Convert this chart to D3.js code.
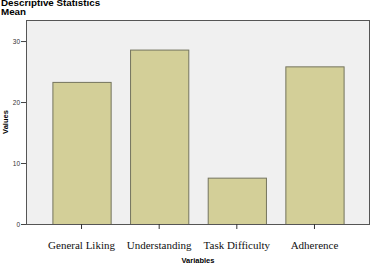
<!DOCTYPE html>
<html><head><meta charset="utf-8">
<script src="https://cdn.jsdelivr.net/npm/d3@7"></script>
<style>body{margin:0;background:#fff}svg{display:block}</style>
</head><body>
<svg id="c" width="373" height="264"></svg>
<script>
const categories = ["General Liking","Understanding","Task Difficulty","Adherence"];
const means = [23.3, 28.6, 7.6, 25.85];
const yTicks = [0,10,20,30];

const svg = d3.select("#c");
const L=26, R=370, T=20, B=224;
const x = d3.scaleBand().domain(categories).range([L,R]).paddingInner(0.25).paddingOuter(0.34);
const y = d3.scaleLinear().domain([0,33.45]).range([B,T]);

svg.append("rect").attr("x",L).attr("y",T).attr("width",R-L).attr("height",B-T)
  .attr("fill","#f0f0f0");

svg.selectAll("rect.bar").data(means).join("rect").attr("class","bar")
  .attr("x",(d,i)=>x(categories[i])+0.5).attr("y",d=>y(d)+0.5)
  .attr("width",x.bandwidth()).attr("height",d=>B-y(d))
  .attr("fill","#d3cf98").attr("stroke","#74745e").attr("stroke-width",1);

svg.append("rect").attr("x",L+0.5).attr("y",T+0.5).attr("width",R-L-1).attr("height",B-T)
  .attr("fill","none").attr("stroke","#555").attr("stroke-width",1);

const ya = svg.append("g").attr("transform",`translate(${L},0)`)
  .call(d3.axisLeft(y).tickValues(yTicks).tickSize(5).tickPadding(1));
ya.select(".domain").remove();
ya.selectAll("line").attr("stroke","#444");
ya.selectAll("text").attr("font-family","Arial, 'Liberation Sans', sans-serif").attr("font-size","6.5px").attr("fill","#333");

const xa = svg.append("g").attr("transform",`translate(0,${B})`)
  .call(d3.axisBottom(x).tickSize(5).tickPadding(12));
xa.select(".domain").remove();
xa.selectAll("line").attr("stroke","#333");
xa.selectAll("text").attr("font-family","'Liberation Serif','Times New Roman',serif").attr("font-size","11px").attr("fill","#111");

svg.append("text").attr("x",(L+R)/2).attr("y",262.5).attr("text-anchor","middle")
  .attr("font-family","Arial, 'Liberation Sans', sans-serif").attr("font-weight","bold").attr("font-size","7.5px").text("Variables");
svg.append("text").attr("transform",`translate(8,${(T+B)/2}) rotate(-90)`).attr("text-anchor","middle")
  .attr("font-family","Arial, 'Liberation Sans', sans-serif").attr("font-weight","bold").attr("font-size","7.5px").text("Values");

svg.append("text").attr("x",1).attr("y",6).attr("font-family","Arial, 'Liberation Sans', sans-serif")
  .attr("font-weight","bold").attr("font-size","9.8px").text("Descriptive Statistics");
svg.append("text").attr("x",1).attr("y",15).attr("font-family","Arial, 'Liberation Sans', sans-serif")
  .attr("font-weight","bold").attr("font-size","9.8px").text("Mean");
</script>
</body></html>
